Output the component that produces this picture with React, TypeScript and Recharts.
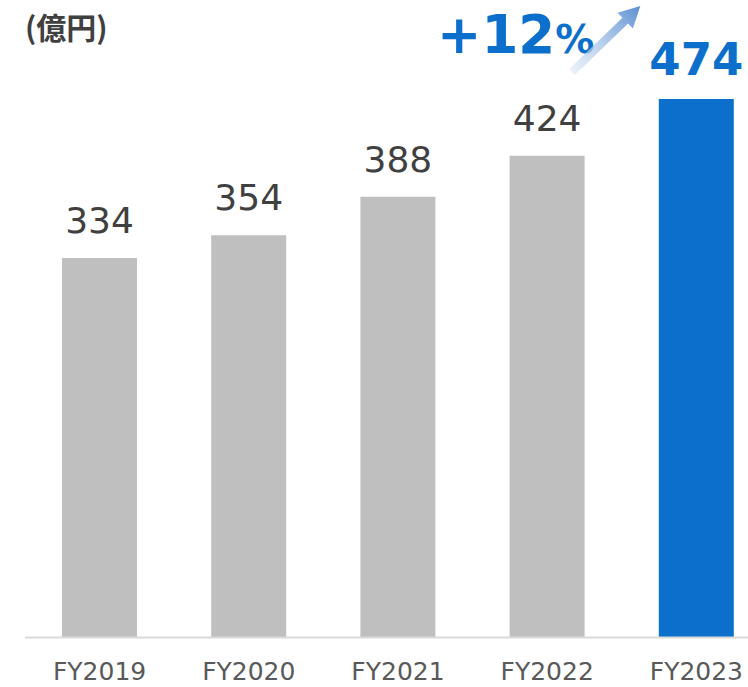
import { BarChart, Bar, XAxis, YAxis, Cell, LabelList } from "recharts";

const years = ["FY2019", "FY2020", "FY2021", "FY2022", "FY2023"];
const sales = [334, 354, 388, 424, 474];
const growthLabel = "+12";
const unitLabel = "(億円)";

const data = years.map((year, i) => ({ year, sales: sales[i] }));

const GRAY = "#bfbfbf";
const BLUE = "#0b6fcb";
const lastIdx = years.length - 1;

if (typeof document !== "undefined") {
  document.body.style.margin = "0";
  document.body.style.overflow = "hidden";
}

const ValueLabel = (props: any) => {
  const { x, y, width, value, index } = props;
  const last = index === lastIdx;
  return (
    <text
      x={x + width / 2}
      y={y - (last ? 24 : 25)}
      textAnchor="middle"
      fontFamily="DejaVu Sans"
      fontSize={last ? 45 : 36}
      fontWeight={last ? "bold" : "normal"}
      fill={last ? BLUE : "#404040"}
    >
      {value}
    </text>
  );
};

export default function App() {
  return (
    <div style={{ position: "relative", width: 748, height: 687, overflow: "hidden", background: "#fff" }}>
      <BarChart
        width={772}
        height={687}
        data={data}
        margin={{ top: 69.5, right: 1, left: 25, bottom: 0 }}
      >
        <XAxis
          dataKey="year"
          height={49.5}
          tickLine={false}
          tickMargin={19}
          axisLine={{ stroke: "#d9d9d9", strokeWidth: 2 }}
          tick={{ fill: "#595959", fontSize: 25, fontFamily: "DejaVu Sans" }}
          interval={0}
        />
        <YAxis hide domain={[0, 500]} />
        <Bar dataKey="sales" barSize={75} isAnimationActive={false}>
          {data.map((d, i) => (
            <Cell key={d.year} fill={i === lastIdx ? BLUE : GRAY} />
          ))}
          <LabelList dataKey="sales" content={<ValueLabel />} />
        </Bar>
      </BarChart>

      {/* unit, growth note and arrow */}
      <svg width={748} height={687} style={{ position: "absolute", left: 0, top: 0, pointerEvents: "none" }}>
        <defs>
          <linearGradient id="arrowGrad" gradientUnits="userSpaceOnUse" x1={0} y1={0} x2={95} y2={0}>
            <stop offset="0" stopColor="#dce7f5" stopOpacity={0.6} />
            <stop offset="1" stopColor="#5b8fd2" />
          </linearGradient>
        </defs>
        <text x={25} y={39} fontFamily="Noto Sans CJK JP" fontWeight="bold" fontSize={30} fill="#404040">
          {unitLabel}
        </text>
        <text x={437} y={53} fontFamily="DejaVu Sans" fontWeight="bold" fill={BLUE}>
          <tspan fontSize={53}>{growthLabel}</tspan>
          <tspan fontSize={39}>%</tspan>
        </text>
        <g transform="translate(572,72) rotate(-44)">
          <polygon points="0,-4 74,-4 74,-11 95,0 74,11 74,4 0,4" fill="url(#arrowGrad)" />
        </g>
      </svg>
    </div>
  );
}
